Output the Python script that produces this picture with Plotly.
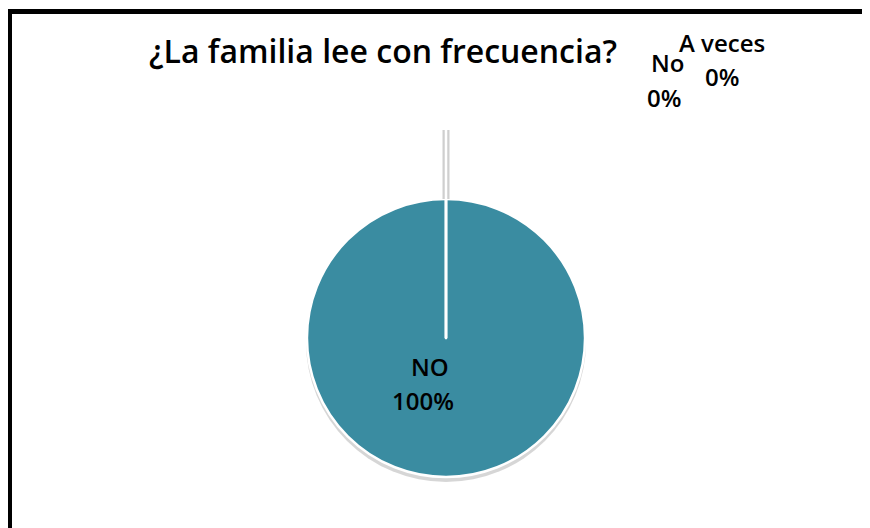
import plotly.graph_objects as go

# ---- data ----
title_text = "¿La familia lee con frecuencia?"
labels = ["NO", "No", "A veces"]
values = [100, 0, 0]
slice_color = "#3A8CA1"

W, H = 870, 528
OFF = 8  # page body margin compensation
total = sum(values)
pcts = [f"{round(v / total * 100)}%" for v in values]

def px(x):
    return (x - OFF) / W

def py(y):
    return 1 - (y - OFF) / H

# pie geometry (pixels, page coordinates)
cx, cy, r = 446, 338, 139

fig = go.Figure()
fig.add_trace(go.Pie(
    labels=labels,
    values=values,
    sort=False,
    direction="clockwise",
    rotation=0,
    marker=dict(colors=[slice_color, "#C0504D", "#9BBB59"],
                line=dict(color="white", width=2.5)),
    textinfo="none",
    hoverinfo="label+percent",
    showlegend=False,
    domain=dict(x=[px(cx - r), px(cx + r)], y=[py(cy + r), py(cy - r)]),
))

shapes = []
# shadow under pie
shapes.append(dict(type="circle", xref="paper", yref="paper", layer="below",
                   x0=px(cx - r - 1), x1=px(cx + r + 1), y0=py(cy + r + 5), y1=py(cy - r + 3),
                   fillcolor="rgba(0,0,0,0.16)", line=dict(width=0)))
# leader line for the 0% slices
shapes.append(dict(type="line", xref="paper", yref="paper",
                   x0=px(cx), x1=px(cx), y0=py(cy - r), y1=py(130),
                   line=dict(color="#CFCFCF", width=7)))
shapes.append(dict(type="line", xref="paper", yref="paper",
                   x0=px(cx), x1=px(cx), y0=py(cy), y1=py(130),
                   line=dict(color="white", width=2.5)))
# frame
shapes.append(dict(type="line", xref="paper", yref="paper",
                   x0=px(9.5), x1=px(9.5), y0=py(9), y1=-0.1,
                   line=dict(color="black", width=5)))
shapes.append(dict(type="line", xref="paper", yref="paper",
                   x0=px(7), x1=1.1, y0=py(11.5), y1=py(11.5),
                   line=dict(color="black", width=5)))

title_font = dict(family="Open Sans, sans-serif", size=32, color="black", weight=600)
lab_font = dict(family="Open Sans, sans-serif", size=24, color="black", weight=600)

def ann(text, x, y, font):
    return dict(text=text, x=px(x), y=py(y), xref="paper", yref="paper",
                showarrow=False, xanchor="center", yanchor="middle", font=font)

annotations = [
    ann(title_text, 383, 50, title_font),
    ann(labels[0], 430, 366, lab_font),
    ann(pcts[0], 423, 400, lab_font),
    ann(labels[1], 667, 63, lab_font),
    ann(pcts[1], 664, 97, lab_font),
    ann(labels[2], 722, 42, lab_font),
    ann(pcts[2], 722, 76, lab_font),
]

fig.update_layout(
    width=W, height=H,
    margin=dict(l=0, r=0, t=0, b=0),
    paper_bgcolor="white", plot_bgcolor="white",
    shapes=shapes, annotations=annotations,
)

fig.write_html("out.html")
